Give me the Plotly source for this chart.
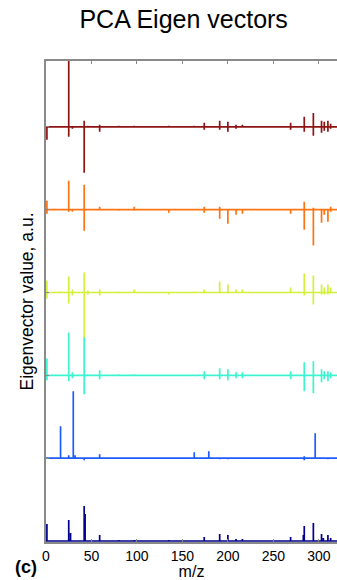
import plotly.graph_objects as go

# m/z axis ticks
x_ticks = [0, 50, 100, 150, 200, 250, 300]

# Eigenvectors, top to bottom: peak m/z, positive part, negative part (a.u.)
ev1_mz = [1, 25, 29, 42, 46, 59, 80, 97, 135, 163, 174, 191, 200, 209, 216, 269, 284, 294, 303, 306, 310, 313]
ev1_up = [0, 80, 0, 6, 1, 2, 1, 1, 1, 1, 4, 6, 5, 2, 2, 4, 10, 14, 6, 5, 6, 3]
ev1_dn = [-13, -10, -2, -46, -1, -5, 0, 0, 0, 0, -3, -3, -5, -2, -1, -3, -5, -9, -6, -4, -5, -2]

ev2_mz = [1, 16, 25, 29, 42, 46, 59, 80, 97, 135, 174, 191, 200, 209, 216, 269, 284, 294, 303, 306, 310, 313]
ev2_up = [9, 1, 29, 0, 25, 1, 3, 0, 3, 0, 3, 3, 0, 0, 0, 0, 8, 2, 0, 0, 0, 3]
ev2_dn = [-4, 0, -2, -2, -21, 0, 0, -1, -1, -3, -3, -9, -14, -5, -4, -4, -20, -36, -13, -5, -12, -2]

ev3_mz = [1, 16, 25, 29, 42, 46, 59, 80, 97, 135, 163, 174, 191, 200, 209, 216, 269, 284, 294, 303, 306, 310, 313]
ev3_up = [12, 1, 16, 3, 20, 2, 3, 1, 3, 0, 1, 3, 11, 8, 3, 3, 5, 19, 17, 8, 5, 8, 5]
ev3_dn = [-6, 0, -11, -3, -47, -2, -3, 0, 0, -2, 0, -1, -1, -1, 0, 0, 0, -3, -12, -2, -2, -2, -1]

ev4_mz = [1, 25, 29, 42, 46, 59, 80, 97, 135, 174, 191, 200, 209, 216, 269, 284, 294, 303, 306, 310, 313]
ev4_up = [17, 43, 3, 38, 1, 5, 1, 1, 0, 4, 7, 6, 3, 3, 4, 13, 14, 6, 4, 4, 3]
ev4_dn = [-5, -6, -3, -19, -1, -4, 0, 0, -1, -4, -4, -5, -3, -3, -4, -16, -18, -7, -4, -6, -3]

ev5_mz = [16, 25, 30, 32, 42, 59, 163, 179, 191, 200, 269, 284, 296, 310]
ev5_up = [32, 3, 67, 3, 0, 4, 6, 7, 0, 0, 1, 2, 25, 0]
ev5_dn = [0, 0, 0, 0, -2, 0, 0, 0, -1, -1, 0, -2, 0, -1]

ev6_mz = [1, 25, 27, 42, 43, 59, 80, 97, 135, 174, 191, 200, 209, 216, 269, 283, 284, 294, 303, 305, 310, 313]
ev6_up = [17, 21, 8, 35, 27, 6, 1, 1, 1, 4, 7, 6, 2, 2, 4, 6, 15, 18, 7, 3, 6, 3]
ev6_dn = [0] * len(ev6_mz)

series = [
    (ev1_mz, ev1_up, ev1_dn, "#8E1414"),
    (ev2_mz, ev2_up, ev2_dn, "#FF7412"),
    (ev3_mz, ev3_up, ev3_dn, "#D2F23A"),
    (ev4_mz, ev4_up, ev4_dn, "#3CF5CF"),
    (ev5_mz, ev5_up, ev5_dn, "#1F5CFF"),
    (ev6_mz, ev6_up, ev6_dn, "#00008C"),
]

X_MAX = 320
SPACING = 83
n = len(series)

fig = go.Figure()
offsets = []
for i, (mz, up, dn, col) in enumerate(series):
    off = (n - 1 - i) * SPACING
    offsets.append(off)
    xs, ys = [0], [off]
    for m, u, d in zip(mz, up, dn):
        xs += [m, m, m, m]
        ys += [off, off + u, off + d, off]
    xs.append(X_MAX + 5)
    ys.append(off)
    fig.add_trace(go.Scatter(x=xs, y=ys, mode="lines",
                             line=dict(color=col, width=1.7),
                             showlegend=False, hoverinfo="skip"))

top = (n - 1) * SPACING + 0.795 * SPACING

fig.update_layout(
    width=337, height=580,
    margin=dict(l=46, r=0, t=61, b=38),
    paper_bgcolor="white", plot_bgcolor="white",
    font=dict(family="Liberation Sans, Arial, sans-serif", color="black"),
    title=dict(text="PCA Eigen vectors", x=0.545, xanchor="center",
               y=0.967, yanchor="middle", font=dict(size=25)),
    xaxis=dict(range=[0, X_MAX], tickvals=x_ticks, ticks="inside", ticklen=3,
               tickcolor="#888888", showline=True, linecolor="#8a8a8a",
               linewidth=1.5, mirror="ticks", showgrid=False, zeroline=False,
               tickfont=dict(size=14), title=dict(text="m/z", font=dict(size=16),
                                                   standoff=1)),
    yaxis=dict(range=[-1, top], tickvals=offsets, ticks="inside", ticklen=3,
               tickcolor="#888888", showticklabels=False, showline=True,
               linecolor="#8a8a8a", linewidth=1.5, showgrid=False,
               zeroline=False,
               title=dict(text="Eigenvector value, a.u.", font=dict(size=17.5),
                          standoff=6)),
)

fig.add_annotation(text="<b>(c)</b>", xref="paper", yref="paper",
                   x=-0.115, y=-0.052, xanchor="left", yanchor="middle",
                   showarrow=False, font=dict(size=18))

fig.write_html("out.html")
